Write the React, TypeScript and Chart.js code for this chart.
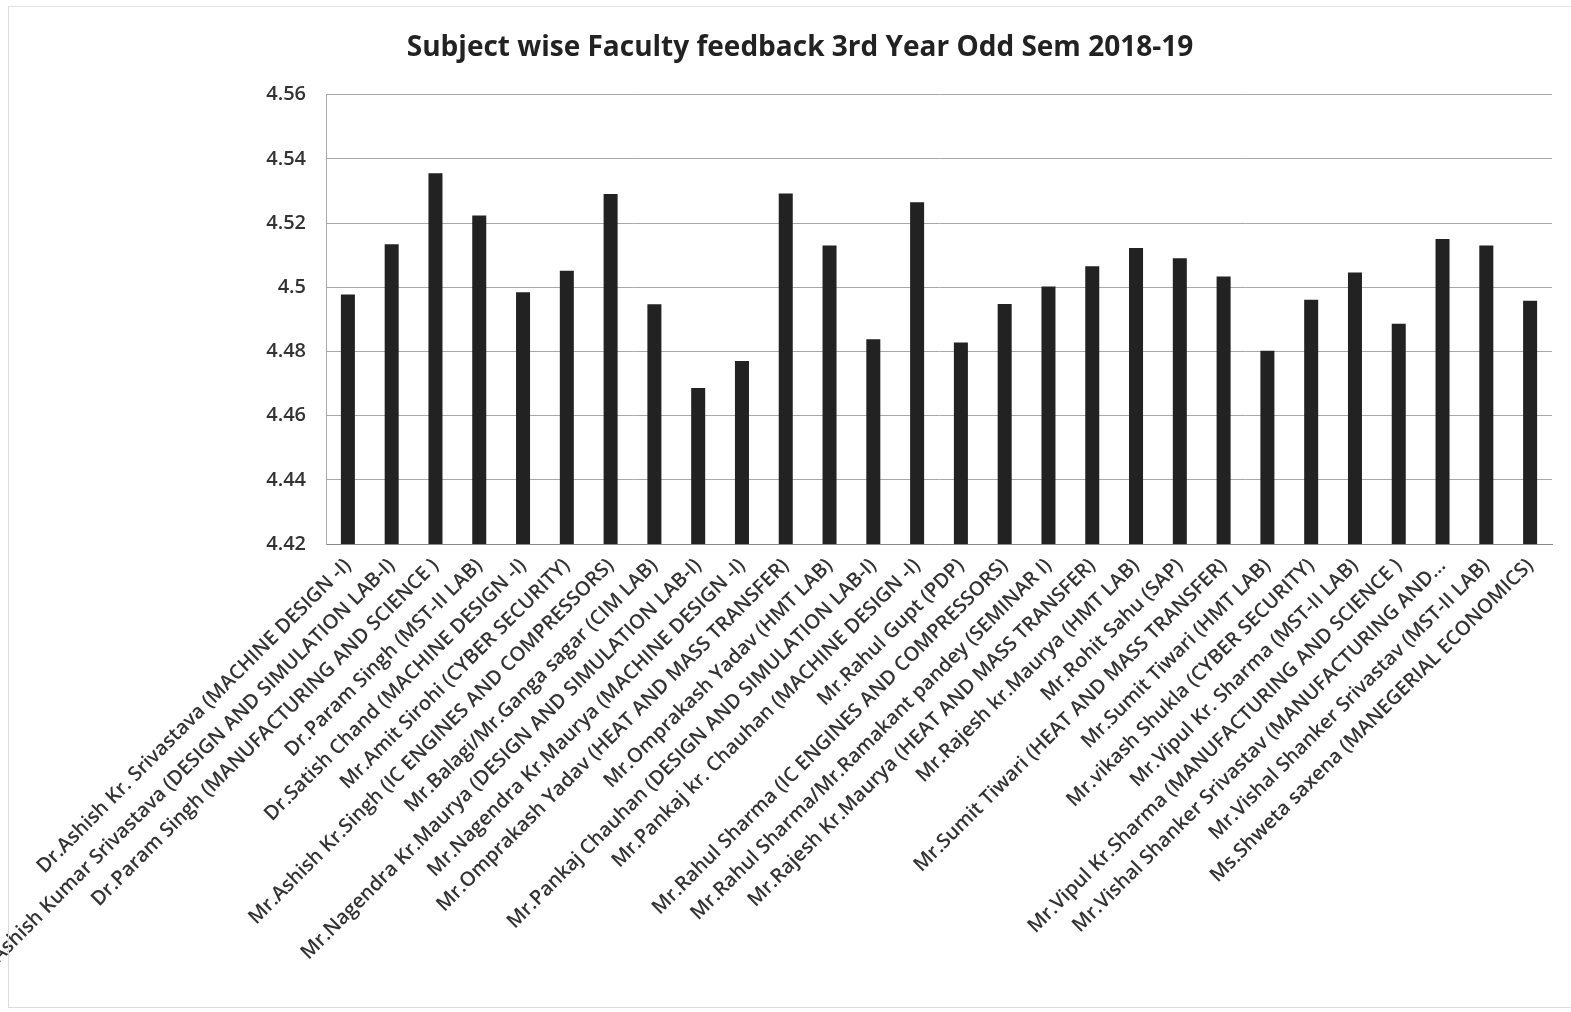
import React, { useEffect, useRef } from "react";
import { Chart, registerables } from "chart.js";

Chart.register(...registerables);

const titleText = "Subject wise Faculty feedback 3rd Year Odd Sem 2018-19";

const categories: string[] = [
  "Dr.Ashish Kr. Srivastava (MACHINE DESIGN -I)",
  "Dr.Ashish Kumar Srivastava (DESIGN AND SIMULATION LAB-I)",
  "Dr.Param Singh (MANUFACTURING AND SCIENCE )",
  "Dr.Param Singh (MST-II LAB)",
  "Dr.Satish Chand (MACHINE DESIGN -I)",
  "Mr.Amit Sirohi (CYBER SECURITY)",
  "Mr.Ashish Kr.Singh (IC ENGINES AND COMPRESSORS)",
  "Mr.Balagi/Mr.Ganga sagar (CIM LAB)",
  "Mr.Nagendra Kr.Maurya (DESIGN AND SIMULATION LAB-I)",
  "Mr.Nagendra Kr.Maurya (MACHINE DESIGN -I)",
  "Mr.Omprakash Yadav (HEAT AND MASS TRANSFER)",
  "Mr.Omprakash Yadav (HMT LAB)",
  "Mr.Pankaj Chauhan (DESIGN AND SIMULATION LAB-I)",
  "Mr.Pankaj kr. Chauhan (MACHINE DESIGN -I)",
  "Mr.Rahul Gupt (PDP)",
  "Mr.Rahul Sharma (IC ENGINES AND COMPRESSORS)",
  "Mr.Rahul Sharma/Mr.Ramakant pandey (SEMINAR I)",
  "Mr.Rajesh Kr.Maurya (HEAT AND MASS TRANSFER)",
  "Mr.Rajesh kr.Maurya (HMT LAB)",
  "Mr.Rohit Sahu (SAP)",
  "Mr.Sumit Tiwari (HEAT AND MASS TRANSFER)",
  "Mr.Sumit Tiwari (HMT LAB)",
  "Mr.vikash Shukla (CYBER SECURITY)",
  "Mr.Vipul Kr. Sharma (MST-II LAB)",
  "Mr.Vipul Kr.Sharma (MANUFACTURING AND SCIENCE )",
  "Mr.Vishal Shanker Srivastav (MANUFACTURING AND...",
  "Mr.Vishal Shanker Srivastav (MST-II LAB)",
  "Ms.Shweta saxena (MANEGERIAL ECONOMICS)",
];

const feedbackValues: number[] = [
  4.4977, 4.5134, 4.5355, 4.5223, 4.4984, 4.5051, 4.5290, 4.4947,
  4.4686, 4.4770, 4.5292, 4.5130, 4.4838, 4.5265, 4.4828, 4.4948,
  4.5002, 4.5065, 4.5122, 4.5090, 4.5033, 4.4802, 4.4961, 4.5046,
  4.4886, 4.5150, 4.5130, 4.4958,
];

const yMin = 4.42;
const yMax = 4.56;
const yStep = 0.02;

export default function App() {
  const canvasRef = useRef<HTMLCanvasElement | null>(null);

  useEffect(() => {
    document.body.style.margin = "0";
    const canvas = canvasRef.current;
    if (!canvas) return;
    const chart = new Chart(canvas, {
      type: "bar",
      data: {
        labels: categories,
        datasets: [
          {
            label: "Feedback",
            data: feedbackValues,
            backgroundColor: "#222222",
            borderWidth: 0,
            categoryPercentage: 1,
            barPercentage: 0.32,
          },
        ],
      },
      options: {
        responsive: false,
        animation: false,
        maintainAspectRatio: false,
        layout: { padding: { top: 0, right: 19, bottom: 0, left: 48 } },
        plugins: {
          legend: { display: false },
          tooltip: { enabled: false },
          title: {
            display: true,
            text: titleText,
            color: "#222",
            font: { family: "Open Sans", size: 28, weight: "bold" },
            padding: { top: 31, bottom: 30 },
          },
        },
        scales: {
          x: {
            grid: { display: false, drawTicks: false },
            border: { display: true, color: "#888" },
            afterFit: (scale: any) => {
              scale.height = 1012 - 544;
            },
            ticks: {
              autoSkip: false,
              minRotation: 45,
              maxRotation: 45,
              color: "#333",
              padding: 10,
              font: { family: "Open Sans", size: 20, weight: "600" },
            },
          },
          y: {
            min: yMin,
            max: yMax,
            grid: { color: "#a8a8a8", drawTicks: false },
            border: { display: true, color: "#aaa" },
            afterFit: (scale: any) => {
              scale.width = 326 - 48;
            },
            ticks: {
              stepSize: yStep,
              color: "#333",
              padding: 20,
              font: { family: "Open Sans", size: 20, weight: "600" },
              callback: (v: any) => String(parseFloat(Number(v).toFixed(2))),
            },
          },
        },
      },
    });
    return () => chart.destroy();
  }, []);

  return (
    <div style={{ position: "relative", width: 1571, height: 1012, background: "#fff" }}>
      <canvas ref={canvasRef} width={1571} height={1012} style={{ display: "block" }} />
      <div
        style={{
          position: "absolute",
          left: 8,
          top: 6,
          width: 1563,
          height: 1002,
          borderLeft: "1px solid #dcdcdc",
          borderTop: "1px solid #e4e4e4",
          borderBottom: "1px solid #dcdcdc",
          boxSizing: "border-box",
          pointerEvents: "none",
        }}
      />
    </div>
  );
}
